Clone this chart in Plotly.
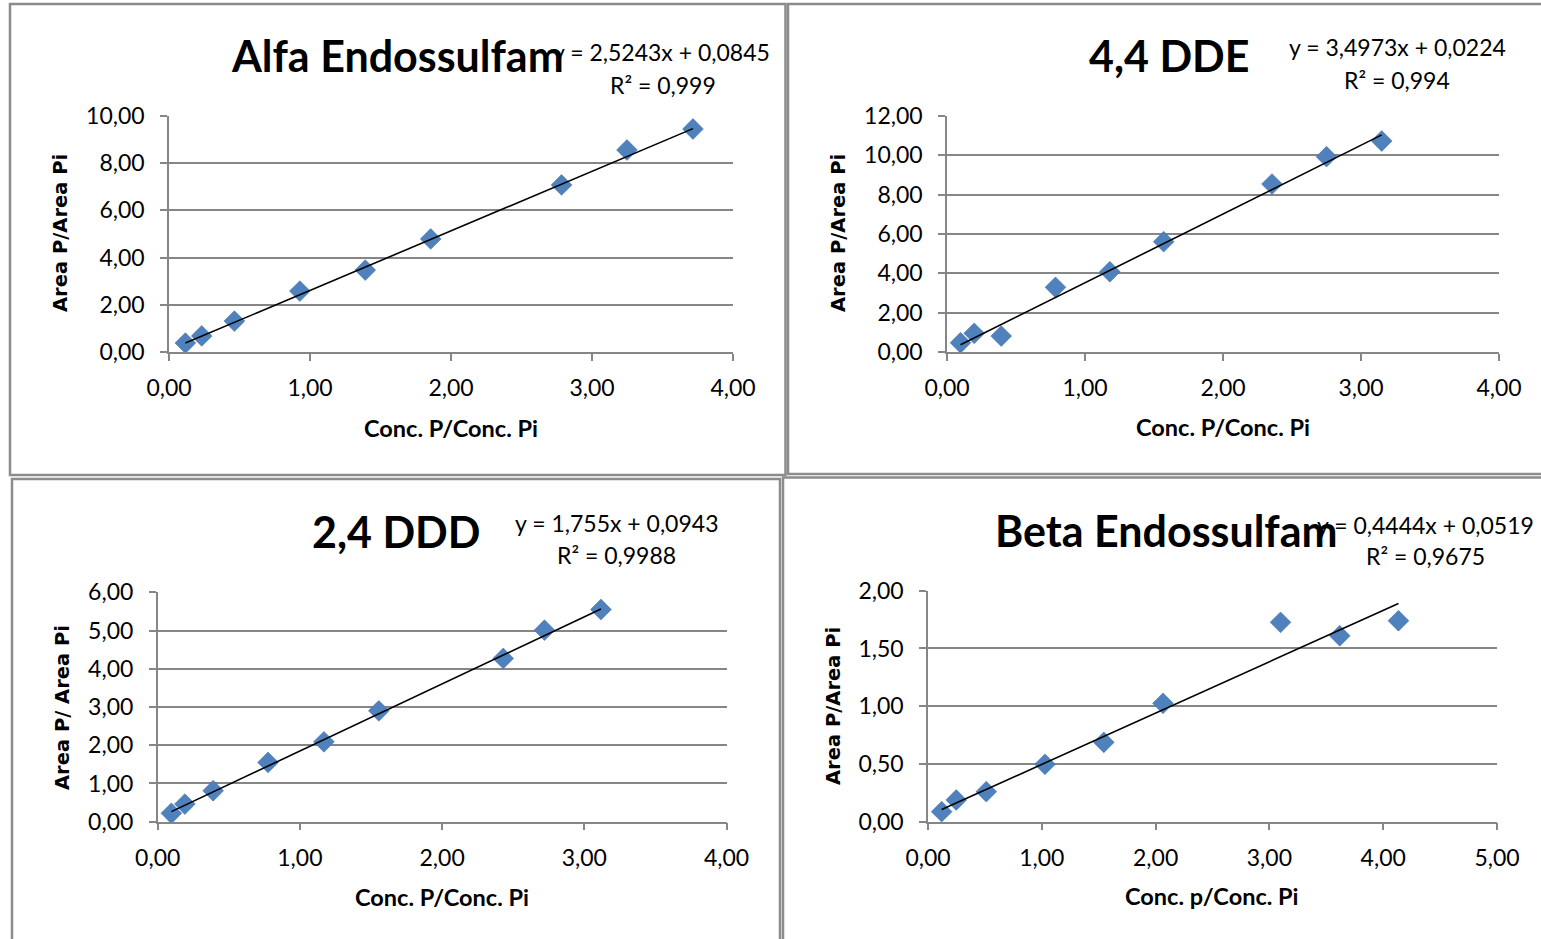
import plotly.graph_objects as go

W, H = 1541, 939

# ---- data ----
titles = ["Alfa Endossulfam", "4,4 DDE", "2,4 DDD", "Beta Endossulfam"]
x_titles = ["Conc. P/Conc. Pi", "Conc. P/Conc. Pi", "Conc. P/Conc. Pi", "Conc. p/Conc. Pi"]
y_titles = ["Area P/Area Pi", "Area P/Area Pi", "Area P/ Area Pi", "Area P/Area Pi"]

alfa_x = [0.116, 0.232, 0.464, 0.928, 1.392, 1.856, 2.784, 3.248, 3.716]
alfa_y = [0.38, 0.68, 1.31, 2.58, 3.47, 4.79, 7.08, 8.56, 9.45]

dde_x = [0.098, 0.197, 0.393, 0.786, 1.180, 1.570, 2.355, 2.750, 3.150]
dde_y = [0.47, 0.95, 0.81, 3.29, 4.08, 5.61, 8.54, 9.93, 10.73]

ddd_x = [0.096, 0.191, 0.390, 0.776, 1.169, 1.555, 2.430, 2.720, 3.117]
ddd_y = [0.22, 0.46, 0.81, 1.55, 2.09, 2.90, 4.27, 5.01, 5.55]

beta_x = [0.120, 0.248, 0.512, 1.028, 1.545, 2.065, 3.098, 3.618, 4.134]
beta_y = [0.087, 0.188, 0.26, 0.497, 0.687, 1.025, 1.726, 1.61, 1.74]

slopes = [2.5243, 3.4973, 1.755, 0.4444]
intercepts = [0.0845, 0.0224, 0.0943, 0.0519]
equations = ["y = 2,5243x + 0,0845", "y = 3,4973x + 0,0224", "y = 1,755x + 0,0943", "y = 0,4444x + 0,0519"]
r2_labels = ["R² = 0,999", "R² = 0,994", "R² = 0,9988", "R² = 0,9675"]

x_max = [4, 4, 4, 5]
x_step = [1, 1, 1, 1]
y_max = [10, 12, 6, 2]
y_step = [2, 2, 1, 0.5]

series_x = [alfa_x, dde_x, ddd_x, beta_x]
series_y = [alfa_y, dde_y, ddd_y, beta_y]

# ---- layout geometry (pixels) ----
plot_px = [  # x0, x1, ytop, ybottom
    (169, 733, 116, 352),
    (947, 1499, 116, 352),
    (157.7, 726.5, 592.3, 821.7),
    (928, 1497, 590.7, 821.7),
]
title_pos = [(397, 55), (1169, 55), (396, 531), (1166, 530)]
eq_pos = [(661, 52), (1397, 47), (616, 523), (1425, 525)]
r2_pos = [(663, 85), (1397, 80), (616, 555), (1425, 556)]
ytitle_pos = [(61, 233), (839, 233), (62, 708), (833, 706)]
xtitle_pos = [(451, 428), (1223, 427), (442, 897), (1212, 896)]
borders = [(10, 4, 785.5, 475), (788, 4, 1545, 474), (12, 479, 780, 945), (783, 477.5, 1545, 945)]

def px(x):
    return x / W

def py(y):
    return 1 - y / H

TICK_FONT = dict(family="Lato, Calibri, sans-serif", size=23, color="#000000")
GRID = "#868686"
BLUE = "#4F81BD"

fig = go.Figure()
layout = dict(
    width=W, height=H, autosize=False,
    margin=dict(l=0, r=0, t=0, b=0, pad=0, autoexpand=False),
    paper_bgcolor="white", plot_bgcolor="white",
    showlegend=False, separators=", ",
    annotations=[], shapes=[],
)

for i in range(4):
    sfx = "" if i == 0 else str(i + 1)
    xa, ya = "x" + sfx, "y" + sfx
    fig.add_trace(go.Scatter(
        x=series_x[i], y=series_y[i], mode="markers", xaxis=xa, yaxis=ya,
        marker=dict(symbol="diamond", size=16, color=BLUE,
                    line=dict(width=0.5, color="#3A6BA5")),
        cliponaxis=False,
    ))
    x_lo, x_hi = min(series_x[i]), max(series_x[i])
    fig.add_trace(go.Scatter(
        x=[x_lo, x_hi],
        y=[slopes[i] * x_lo + intercepts[i], slopes[i] * x_hi + intercepts[i]],
        mode="lines", xaxis=xa, yaxis=ya,
        line=dict(color="black", width=1.6), cliponaxis=False,
    ))
    x0, x1, yt, yb = plot_px[i]
    nx = int(round(x_max[i] / x_step[i]))
    ny = int(round(y_max[i] / y_step[i]))
    layout["xaxis" + sfx] = dict(
        domain=[px(x0), px(x1)], anchor=ya, range=[0, x_max[i]],
        tickvals=[k * x_step[i] for k in range(nx + 1)], tickformat=".2f",
        showgrid=False, zeroline=False, showline=True, linecolor=GRID, linewidth=1.5,
        ticks="outside", ticklen=7, tickwidth=1.5, tickcolor=GRID,
        tickfont=TICK_FONT, ticklabelstandoff=8, fixedrange=True, automargin=False,
    )
    layout["yaxis" + sfx] = dict(
        domain=[py(yb), py(yt)], anchor=xa, range=[0, y_max[i]],
        tickvals=[k * y_step[i] for k in range(ny + 1)], tickformat=".2f",
        showgrid=True, gridcolor=GRID, gridwidth=2, zeroline=False,
        showline=True, linecolor=GRID, linewidth=1.5,
        ticks="outside", ticklen=7, tickwidth=1.5, tickcolor=GRID,
        tickfont=TICK_FONT, ticklabelstandoff=11, fixedrange=True, automargin=False,
    )
    # texts
    tx, ty = title_pos[i]
    layout["annotations"].append(dict(
        text="<b>%s</b>" % titles[i], x=px(tx), y=py(ty), xref="paper", yref="paper",
        xanchor="center", yanchor="middle", showarrow=False,
        font=dict(family="Lato, Calibri, sans-serif", size=43, color="black")))
    ex, ey = eq_pos[i]
    layout["annotations"].append(dict(
        text=equations[i], x=px(ex), y=py(ey), xref="paper", yref="paper",
        xanchor="center", yanchor="middle", showarrow=False,
        font=dict(family="Lato, Calibri, sans-serif", size=23, color="black")))
    rx, ry = r2_pos[i]
    layout["annotations"].append(dict(
        text=r2_labels[i], x=px(rx), y=py(ry), xref="paper", yref="paper",
        xanchor="center", yanchor="middle", showarrow=False,
        font=dict(family="Lato, Calibri, sans-serif", size=23, color="black")))
    yx, yy = ytitle_pos[i]
    layout["annotations"].append(dict(
        text="<b>%s</b>" % y_titles[i], x=px(yx), y=py(yy), xref="paper", yref="paper",
        xanchor="center", yanchor="middle", showarrow=False, textangle=-90,
        font=dict(family="DejaVu Sans, Verdana, sans-serif", size=19.5, color="black")))
    xx, xy = xtitle_pos[i]
    layout["annotations"].append(dict(
        text="<b>%s</b>" % x_titles[i], x=px(xx), y=py(xy), xref="paper", yref="paper",
        xanchor="center", yanchor="middle", showarrow=False,
        font=dict(family="Lato, Calibri, sans-serif", size=23.5, color="black")))
    bx0, by0, bx1, by1 = borders[i]
    layout["shapes"].append(dict(
        type="rect", xref="paper", yref="paper",
        x0=px(bx0), x1=px(bx1), y0=py(by1), y1=py(by0),
        line=dict(color="#8C8C8C", width=2.5), layer="below"))

fig.update_layout(**layout)
fig.write_html("out.html", config={"displayModeBar": False})
